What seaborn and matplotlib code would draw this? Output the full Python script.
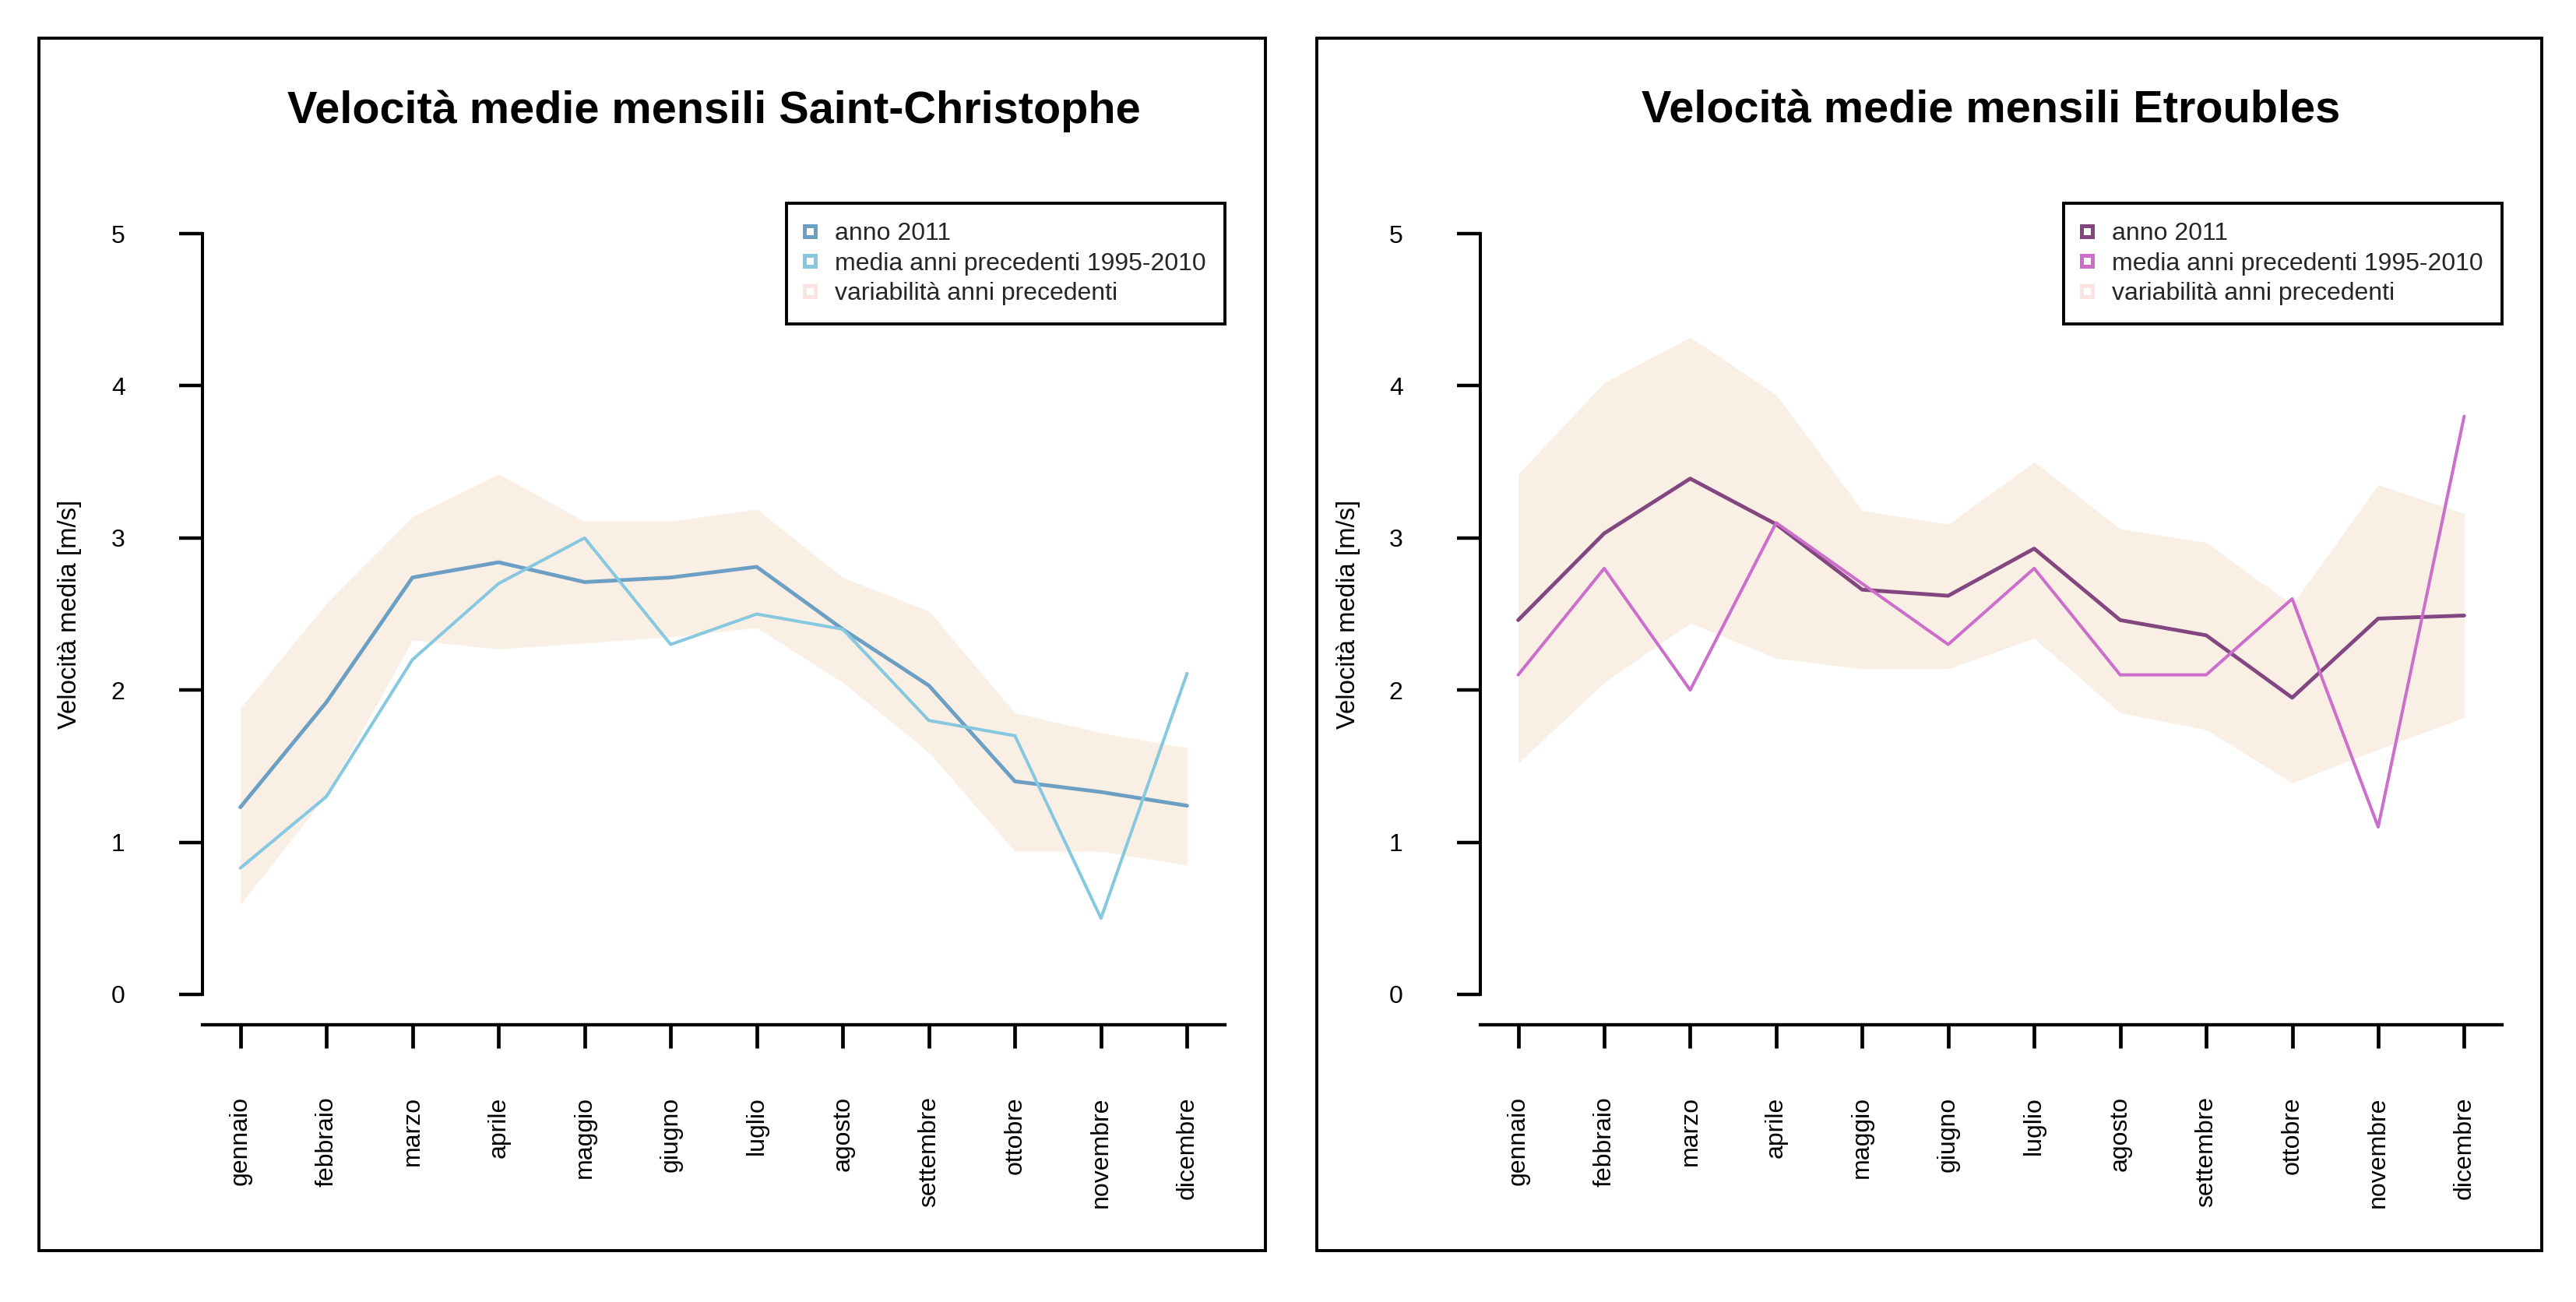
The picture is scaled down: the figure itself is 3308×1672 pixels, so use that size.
import matplotlib
matplotlib.use("Agg")
import matplotlib.pyplot as plt
from matplotlib.lines import Line2D
from matplotlib.patches import Rectangle
import seaborn as sns
import pandas as pd
import numpy as np

# ---------------- data ----------------
months = ['gennaio', 'febbraio', 'marzo', 'aprile', 'maggio', 'giugno',
          'luglio', 'agosto', 'settembre', 'ottobre', 'novembre', 'dicembre']

sc_2011 = [1.23, 1.92, 2.74, 2.84, 2.71, 2.74, 2.81, 2.40, 2.03, 1.40, 1.33, 1.24]
sc_media = [0.83, 1.30, 2.20, 2.70, 3.00, 2.30, 2.50, 2.40, 1.80, 1.70, 0.50, 2.11]
sc_low = [0.59, 1.31, 2.33, 2.27, 2.31, 2.35, 2.41, 2.05, 1.59, 0.94, 0.94, 0.85]
sc_high = [1.88, 2.57, 3.14, 3.42, 3.11, 3.11, 3.19, 2.74, 2.52, 1.85, 1.72, 1.62]

et_2011 = [2.46, 3.03, 3.39, 3.09, 2.66, 2.62, 2.93, 2.46, 2.36, 1.95, 2.47, 2.49]
et_media = [2.10, 2.80, 2.00, 3.10, 2.70, 2.30, 2.80, 2.10, 2.10, 2.60, 1.10, 3.80]
et_low = [1.52, 2.05, 2.44, 2.21, 2.14, 2.14, 2.34, 1.85, 1.74, 1.39, 1.61, 1.82]
et_high = [3.42, 4.02, 4.32, 3.94, 3.18, 3.09, 3.50, 3.06, 2.97, 2.56, 3.35, 3.16]

titles = ['Velocità medie mensili Saint-Christophe', 'Velocità medie mensili Etroubles']
legend_labels = ['anno 2011', 'media anni precedenti 1995-2010', 'variabilità anni precedenti']
y_label = 'Velocità media [m/s]'
y_ticks = [0, 1, 2, 3, 4, 5]

# ---------------- style ----------------
sns.set_theme(style='white')
plt.rcParams['font.family'] = ['Liberation Sans', 'DejaVu Sans']

W, H = 3308, 1672
DPI = 100
fig = plt.figure(figsize=(W / DPI, H / DPI), dpi=DPI)
fig.patch.set_facecolor('white')

band_color = '#faefe5'
legend_band_color = '#fbe3e1'
FS = 23
FS_LAB = 23.7

panels = [
    dict(title=titles[0], v2011=sc_2011, media=sc_media, low=sc_low, high=sc_high,
         c2011='#6c9fc4', cmedia='#86c8e0', ax_left=260, ax_right=1573,
         box=(50, 49, 1625, 1606)),
    dict(title=titles[1], v2011=et_2011, media=et_media, low=et_low, high=et_high,
         c2011='#824680', cmedia='#cc6ecc', ax_left=1901, ax_right=3213,
         box=(1691, 49, 3264, 1606)),
]

ax_top, ax_bottom = 261, 1316

for p in panels:
    x0, y0, x1, y1 = p['box']
    fig.patches.append(Rectangle((x0 / W, 1 - y1 / H), (x1 - x0) / W, (y1 - y0) / H,
                                 transform=fig.transFigure, fill=False,
                                 edgecolor='black', linewidth=2.8, zorder=0))

    ax = fig.add_axes([p['ax_left'] / W, 1 - ax_bottom / H,
                       (p['ax_right'] - p['ax_left']) / W, (ax_bottom - ax_top) / H])
    ax.set_facecolor('none')

    df = pd.DataFrame({'mese': np.arange(1, 13), 'v2011': p['v2011'],
                       'media': p['media'], 'low': p['low'], 'high': p['high']})

    ax.fill_between(df['mese'], df['low'], df['high'], color=band_color, lw=0, zorder=1)
    sns.lineplot(data=df, x='mese', y='v2011', color=p['c2011'], linewidth=3.5,
                 ax=ax, zorder=3, legend=False)
    sns.lineplot(data=df, x='mese', y='media', color=p['cmedia'], linewidth=2.9,
                 ax=ax, zorder=4, legend=False)

    ax.set_xlim(0.56, 12.44)
    ax.set_ylim(-0.2, 5.2)
    ax.set_xlabel('')
    ax.set_ylabel('')

    for s in ['top', 'right']:
        ax.spines[s].set_visible(False)
    ax.spines['left'].set_bounds(0, 5)
    ax.spines['left'].set_linewidth(2.9)
    ax.spines['bottom'].set_linewidth(3.1)
    ax.spines['left'].set_color('black')
    ax.spines['bottom'].set_color('black')

    ax.set_yticks(y_ticks)
    ax.set_yticklabels([str(t) for t in y_ticks])
    ax.set_xticks(np.arange(1, 13))
    ax.set_xticklabels(months, rotation=90)
    ax.tick_params(axis='y', direction='out', length=21.5, width=3.2, pad=50,
                   labelsize=FS, colors='black', left=True)
    ax.tick_params(axis='x', direction='out', length=21.5, width=3.4, pad=45,
                   labelsize=FS, colors='black', bottom=True)
    for lab in ax.get_xticklabels():
        lab.set_va('top')
        lab.set_ha('center')

    ax.text(-0.1295, 0.5, y_label, rotation=90, ha='center', va='center',
            fontsize=FS_LAB, transform=ax.transAxes, color='black')

    ax.text(0.5, (ax_bottom - 158) / (ax_bottom - ax_top), p['title'],
            ha='center', va='baseline', fontsize=41.5, fontweight='bold',
            transform=ax.transAxes, color='black')

    handles = [
        Line2D([], [], ls='none', marker='s', markersize=10.5, markerfacecolor='white',
               markeredgecolor=p['c2011'], markeredgewidth=3.6),
        Line2D([], [], ls='none', marker='s', markersize=10.5, markerfacecolor='white',
               markeredgecolor=p['cmedia'], markeredgewidth=3.6),
        Line2D([], [], ls='none', marker='s', markersize=10.5, markerfacecolor='white',
               markeredgecolor=legend_band_color, markeredgewidth=3.6),
    ]
    leg = ax.legend(handles, legend_labels, loc='upper right', bbox_to_anchor=(1, 1),
                    borderaxespad=0, fontsize=FS, frameon=True, fancybox=False,
                    framealpha=1, edgecolor='black', handlelength=0.38,
                    handletextpad=0.82, borderpad=0.75, labelspacing=0.27)
    leg.get_frame().set_linewidth(2.8)
    leg.set_zorder(10)

fig.savefig('out.png', dpi=DPI, facecolor='white')
